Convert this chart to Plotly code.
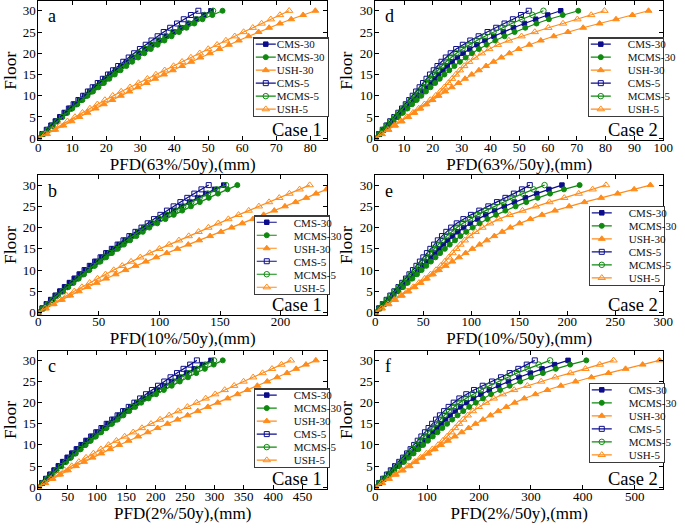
import plotly.graph_objects as go

floors = list(range(31))
series_names = ["CMS-30", "MCMS-30", "USH-30", "CMS-5", "MCMS-5", "USH-5"]

# ---- Panel a : Case 1, PFD(63%/50y)
a_cms30 = [0, 1.3, 2.6, 3.9, 5.2, 6.5, 7.9, 9.3, 10.7, 12.1, 13.6, 15.1, 16.6, 18.1, 19.6, 21.1, 22.7, 24.3, 25.9, 27.6, 29.5, 31.4, 33.4, 35.5, 37.6, 39.8, 42.0, 44.2, 46.5, 48.7, 50.8]
a_mcms30 = [0, 1.4, 2.8, 4.2, 5.6, 7.0, 8.5, 10.0, 11.5, 13.0, 14.5, 16.1, 17.7, 19.3, 20.9, 22.5, 24.2, 25.9, 27.6, 29.4, 31.2, 33.1, 35.1, 37.1, 39.2, 41.4, 43.6, 45.9, 48.3, 51.2, 54.2]
a_ush30 = [0, 2.6, 5.0, 7.4, 9.8, 12.1, 14.5, 16.9, 19.3, 21.8, 24.3, 26.8, 29.3, 31.9, 34.4, 37.0, 39.6, 42.3, 45.0, 47.7, 50.5, 53.3, 56.1, 59.0, 61.9, 64.8, 67.9, 71.1, 74.4, 77.9, 81.5]
a_cms5 = [0, 1.2, 2.5, 3.8, 5.1, 6.4, 7.7, 9.0, 10.4, 11.8, 13.2, 14.6, 16.0, 17.5, 19.0, 20.5, 22.0, 23.5, 25.0, 26.6, 28.2, 29.9, 31.6, 33.3, 35.1, 36.9, 38.8, 40.8, 42.8, 44.9, 47.1]
a_mcms5 = [0, 1.4, 2.8, 4.2, 5.6, 7.0, 8.4, 9.8, 11.2, 12.6, 14.1, 15.6, 17.1, 18.6, 20.1, 21.6, 23.2, 24.8, 26.4, 28.0, 29.7, 31.5, 33.4, 35.4, 37.4, 39.6, 41.8, 44.1, 46.5, 48.9, 51.4]
a_ush5 = [0, 2.1, 4.3, 6.4, 8.6, 10.8, 13.0, 15.2, 17.4, 19.6, 21.9, 24.4, 27.0, 29.5, 32.1, 34.6, 37.2, 39.8, 42.3, 44.9, 47.5, 50.0, 52.6, 55.2, 57.8, 60.4, 63.1, 65.7, 68.4, 71.1, 73.8]

# ---- Panel b : Case 1, PFD(10%/50y)
b_cms30 = [0, 3.5, 7.0, 10.6, 14.3, 18.1, 22.0, 26.0, 30.1, 34.4, 38.8, 43.2, 47.7, 52.3, 57.0, 61.8, 66.7, 71.7, 76.8, 82.0, 87.3, 93.1, 99.1, 105.3, 111.7, 118.2, 124.8, 131.5, 138.3, 145.5, 153.1]
b_mcms30 = [0, 3.9, 7.9, 12.0, 16.2, 20.5, 24.8, 29.1, 33.4, 37.8, 42.2, 46.7, 51.3, 56.0, 60.8, 65.7, 70.7, 75.8, 81.0, 86.3, 91.7, 98.2, 104.9, 111.8, 118.8, 126.0, 133.3, 140.7, 148.3, 156.2, 164.3]
b_ush30 = [0, 6.3, 12.8, 19.5, 26.4, 33.5, 40.8, 48.3, 56.0, 63.9, 72.0, 80.3, 88.8, 97.4, 106.1, 114.9, 123.8, 132.8, 141.8, 150.8, 159.6, 168.4, 177.2, 186.0, 194.8, 203.6, 212.4, 221.2, 229.3, 238.0, 246.8]
b_cms5 = [0, 3.4, 6.9, 10.5, 14.2, 18.0, 21.9, 25.9, 29.9, 34.0, 38.2, 42.5, 46.9, 51.4, 56.0, 60.7, 65.5, 70.3, 75.2, 80.2, 85.2, 90.3, 95.5, 100.8, 106.2, 111.7, 117.3, 123.0, 128.8, 134.7, 140.7]
b_mcms5 = [0, 3.8, 7.7, 11.7, 15.8, 20.0, 24.1, 28.3, 32.5, 36.8, 41.1, 45.5, 49.9, 54.4, 59.0, 63.7, 68.4, 73.2, 78.0, 82.9, 87.9, 93.9, 100.1, 106.5, 113.0, 119.6, 126.3, 133.1, 140.1, 147.4, 155.0]
b_ush5 = [0, 5.6, 11.4, 17.4, 23.5, 29.7, 36.0, 42.4, 48.9, 55.5, 62.3, 69.3, 76.6, 84.2, 92.0, 100.0, 108.0, 116.1, 124.2, 132.3, 140.4, 148.5, 156.9, 165.3, 173.7, 182.1, 190.5, 198.9, 207.3, 215.7, 224.0]

# ---- Panel c : Case 1, PFD(2%/50y)
c_cms30 = [0, 6.7, 13.4, 20.4, 27.5, 34.8, 42.2, 49.9, 57.8, 66.0, 74.5, 82.9, 91.6, 100.4, 109.4, 118.7, 128.1, 137.7, 147.5, 157.4, 167.6, 178.8, 190.3, 202.2, 214.5, 226.9, 239.6, 252.5, 265.5, 279.4, 294.0]
c_mcms30 = [0, 7.5, 15.1, 22.9, 31.0, 39.2, 47.4, 55.6, 63.9, 72.3, 80.7, 89.3, 98.1, 107.1, 116.3, 125.6, 135.2, 144.9, 154.9, 165.0, 175.3, 187.8, 200.6, 213.8, 227.2, 240.9, 254.9, 269.0, 283.6, 298.7, 314.1]
c_ush30 = [0, 12.1, 24.5, 37.3, 50.6, 64.2, 78.1, 92.5, 107.2, 122.4, 137.9, 153.8, 170.1, 186.5, 203.2, 220.0, 237.1, 254.3, 271.6, 288.8, 305.6, 322.5, 339.3, 356.2, 373.0, 389.9, 406.8, 423.6, 439.1, 455.8, 472.6]
c_cms5 = [0, 6.5, 13.2, 20.2, 27.3, 34.6, 42.0, 49.7, 57.4, 65.3, 73.3, 81.6, 90.0, 98.7, 107.5, 116.5, 125.8, 135.0, 144.4, 154.0, 163.6, 173.4, 183.4, 193.5, 203.9, 214.5, 225.2, 236.2, 247.3, 258.6, 270.1]
c_mcms5 = [0, 7.3, 14.9, 22.6, 30.5, 38.6, 46.5, 54.6, 62.7, 71.0, 79.3, 87.8, 96.3, 105.0, 113.9, 122.9, 132.0, 141.3, 150.5, 160.0, 169.7, 181.2, 193.2, 205.6, 218.1, 230.8, 243.8, 256.9, 270.4, 284.5, 299.2]
c_ush5 = [0, 10.8, 21.9, 33.4, 45.1, 57.0, 69.1, 81.4, 93.9, 106.6, 119.6, 133.1, 147.1, 161.7, 176.6, 192.0, 207.4, 222.9, 238.5, 254.0, 269.6, 285.1, 301.3, 317.4, 333.5, 349.6, 365.8, 381.9, 398.0, 414.1, 430.1]

# ---- Panel d : Case 2, PFD(63%/50y)
d_cms30 = [0, 1.5, 3.0, 4.5, 6.0, 7.4, 8.9, 10.4, 11.9, 13.4, 14.9, 16.4, 17.8, 19.2, 20.6, 22.0, 23.5, 25.0, 26.7, 28.5, 30.5, 32.8, 35.3, 38.1, 41.2, 44.5, 48.0, 51.8, 55.7, 59.9, 64.4]
d_mcms30 = [0, 1.6, 3.2, 4.8, 6.4, 8.0, 9.6, 11.2, 12.8, 14.4, 16.0, 17.6, 19.2, 20.8, 22.4, 24.0, 25.7, 27.5, 29.4, 31.4, 33.6, 36.0, 38.7, 41.7, 44.9, 48.4, 52.1, 56.0, 60.3, 65.1, 70.5]
d_ush30 = [0, 2.3, 4.6, 6.9, 9.2, 11.5, 13.6, 15.7, 17.8, 19.9, 22.0, 24.3, 26.6, 28.9, 31.2, 33.5, 36.0, 38.5, 41.1, 43.8, 46.6, 49.8, 53.5, 57.5, 62.0, 66.9, 72.2, 77.9, 83.6, 89.3, 94.9]
d_cms5 = [0, 1.3, 2.6, 3.9, 5.2, 6.6, 8.0, 9.3, 10.6, 11.8, 13.0, 14.2, 15.4, 16.6, 17.8, 19.0, 20.3, 21.6, 23.0, 24.5, 26.2, 28.1, 30.4, 33.0, 35.9, 39.0, 42.0, 44.9, 47.8, 50.6, 53.3]
d_mcms5 = [0, 1.4, 2.7, 4.1, 5.5, 6.9, 8.3, 9.7, 11.0, 12.3, 13.7, 15.0, 16.3, 17.6, 18.9, 20.2, 21.6, 23.1, 24.6, 26.3, 28.2, 30.3, 32.7, 35.3, 38.1, 41.1, 44.2, 47.4, 50.9, 54.6, 58.4]
d_ush5 = [0, 2.2, 4.4, 6.6, 8.8, 11.0, 13.1, 15.1, 17.1, 19.1, 21.0, 22.6, 24.0, 25.4, 26.7, 28.0, 29.4, 30.9, 32.6, 34.6, 37.0, 39.6, 42.6, 46.4, 50.8, 55.4, 60.1, 65.2, 70.2, 75.0, 79.6]

# ---- Panel e : Case 2, PFD(10%/50y)
e_cms30 = [0, 4.5, 9.1, 13.6, 18.1, 22.3, 26.9, 31.4, 35.9, 40.5, 45.0, 49.5, 53.8, 58.0, 62.2, 66.4, 71.0, 75.5, 80.6, 86.1, 92.1, 99.1, 106.6, 115.1, 124.4, 134.4, 145.0, 156.4, 168.2, 180.9, 194.5]
e_mcms30 = [0, 4.8, 9.7, 14.5, 19.3, 24.2, 29.0, 33.8, 38.7, 43.5, 48.3, 53.2, 58.0, 62.8, 67.6, 72.5, 77.6, 83.1, 88.8, 94.8, 101.5, 108.7, 116.9, 125.9, 135.6, 146.2, 157.3, 169.1, 182.1, 196.6, 212.9]
e_ush30 = [0, 6.9, 13.9, 20.8, 27.8, 34.7, 41.1, 47.4, 53.8, 60.1, 66.4, 73.4, 80.3, 87.3, 94.2, 101.2, 108.7, 116.3, 124.1, 132.3, 140.7, 150.4, 161.6, 173.7, 187.2, 202.0, 218.0, 235.3, 252.5, 269.7, 286.6]
e_cms5 = [0, 3.9, 7.9, 11.8, 15.7, 19.9, 24.2, 28.1, 32.0, 35.6, 39.3, 42.9, 46.5, 50.1, 53.8, 57.4, 61.3, 65.2, 69.5, 74.0, 79.1, 84.9, 91.8, 99.7, 108.4, 117.8, 126.8, 135.6, 144.4, 152.8, 161.0]
e_mcms5 = [0, 4.2, 8.2, 12.4, 16.6, 20.8, 25.1, 29.3, 33.2, 37.1, 41.4, 45.3, 49.2, 53.2, 57.1, 61.0, 65.2, 69.8, 74.3, 79.4, 85.2, 91.5, 98.8, 106.6, 115.1, 124.1, 133.5, 143.1, 153.7, 164.9, 176.4]
e_ush5 = [0, 6.6, 13.3, 19.9, 26.6, 33.2, 39.6, 45.6, 51.6, 57.7, 63.4, 68.3, 72.5, 76.7, 80.6, 84.6, 88.8, 93.3, 98.5, 104.5, 111.7, 119.6, 128.7, 140.1, 153.4, 167.3, 181.5, 196.9, 212.0, 226.5, 240.4]

# ---- Panel f : Case 2, PFD(2%/50y)
f_cms30 = [0, 8.7, 17.3, 26.0, 34.6, 42.7, 51.4, 60.0, 68.7, 77.3, 86.0, 94.6, 102.7, 110.8, 118.9, 126.9, 135.6, 144.3, 154.1, 164.4, 176.0, 189.3, 203.7, 219.8, 237.7, 256.8, 277.0, 298.9, 321.4, 345.6, 371.6]
f_mcms30 = [0, 9.2, 18.5, 27.7, 36.9, 46.2, 55.4, 64.6, 73.9, 83.1, 92.3, 101.6, 110.8, 120.0, 129.2, 138.5, 148.3, 158.7, 169.6, 181.2, 193.9, 207.7, 223.3, 240.6, 259.1, 279.3, 300.6, 323.1, 347.9, 375.6, 406.8]
f_ush30 = [0, 13.3, 26.5, 39.8, 53.1, 66.4, 78.5, 90.6, 102.7, 114.8, 126.9, 140.2, 153.5, 166.8, 180.0, 193.3, 207.7, 222.1, 237.1, 252.7, 268.9, 287.3, 308.7, 331.8, 357.7, 386.0, 416.6, 449.5, 482.4, 515.3, 547.6]
f_cms5 = [0, 7.5, 15.0, 22.5, 30.0, 38.1, 46.2, 53.7, 61.2, 68.1, 75.0, 81.9, 88.9, 95.8, 102.7, 109.6, 117.1, 124.6, 132.7, 141.4, 151.2, 162.1, 175.4, 190.4, 207.1, 225.0, 242.3, 259.1, 275.8, 292.0, 307.5]
f_mcms5 = [0, 8.1, 15.6, 23.7, 31.7, 39.8, 47.9, 56.0, 63.5, 71.0, 79.0, 86.6, 94.1, 101.6, 109.1, 116.6, 124.6, 133.3, 141.9, 151.8, 162.7, 174.8, 188.7, 203.7, 219.8, 237.1, 255.0, 273.5, 293.7, 315.0, 337.0]
f_ush5 = [0, 12.7, 25.4, 38.1, 50.8, 63.5, 75.6, 87.1, 98.7, 110.2, 121.2, 130.4, 138.5, 146.6, 154.1, 161.6, 169.6, 178.3, 188.1, 199.6, 213.5, 228.5, 245.8, 267.7, 293.1, 319.7, 346.8, 376.2, 405.1, 432.8, 459.3]

x_titles = ["PFD(63%/50y),(mm)", "PFD(10%/50y),(mm)", "PFD(2%/50y),(mm)"]
y_ticks = [0, 5, 10, 15, 20, 25, 30]

panels = [
    # letter, case, series, x title, x max, dtick, column, row
    ("a", "Case 1", [a_cms30, a_mcms30, a_ush30, a_cms5, a_mcms5, a_ush5], x_titles[0], 85, 10, 0, 0),
    ("b", "Case 1", [b_cms30, b_mcms30, b_ush30, b_cms5, b_mcms5, b_ush5], x_titles[1], 238.5, 50, 0, 1),
    ("c", "Case 1", [c_cms30, c_mcms30, c_ush30, c_cms5, c_mcms5, c_ush5], x_titles[2], 492, 50, 0, 2),
    ("d", "Case 2", [d_cms30, d_mcms30, d_ush30, d_cms5, d_mcms5, d_ush5], x_titles[0], 100, 10, 1, 0),
    ("e", "Case 2", [e_cms30, e_mcms30, e_ush30, e_cms5, e_mcms5, e_ush5], x_titles[1], 300, 50, 1, 1),
    ("f", "Case 2", [f_cms30, f_mcms30, f_ush30, f_cms5, f_mcms5, f_ush5], x_titles[2], 555, 100, 1, 2),
]

BLUE = "#0d0d8c"
GREEN = "#0f8a0f"
ORANGE = "#ff8c1a"
styles = {
    "CMS-30": dict(color=BLUE, symbol="square", size=4.5),
    "MCMS-30": dict(color=GREEN, symbol="circle", size=5),
    "USH-30": dict(color=ORANGE, symbol="triangle-up", size=6),
    "CMS-5": dict(color=BLUE, symbol="square-open", size=5),
    "MCMS-5": dict(color=GREEN, symbol="circle-open", size=5.5),
    "USH-5": dict(color=ORANGE, symbol="triangle-up-open", size=6.5),
}

W, H = 685, 529
FONT = "Liberation Serif, Times New Roman, serif"
col_dom = [[36 / W, 331 / W], [380 / W, 674 / W]]
row_dom = [[1 - 141.7 / H, 1 - 1 / H], [1 - 317.7 / H, 1 - 177 / H], [1 - 494 / H, 1 - 354 / H]]
legend_pos = {
    "a": (255 / W, 1 - 37.7 / H), "b": (256 / W, 1 - 217.5 / H), "c": (256 / W, 1 - 392 / H),
    "d": (597 / W, 1 - 37.7 / H), "e": (598 / W, 1 - 208 / H), "f": (598 / W, 1 - 386.7 / H),
}

fig = go.Figure()
layout = dict(
    width=W, height=H, margin=dict(l=0, r=0, t=0, b=0),
    paper_bgcolor="white", plot_bgcolor="white",
    font=dict(family=FONT, size=13, color="black"),
    annotations=[], showlegend=True,
)

for k, (letter, case, data, xtitle, xmax, dtick, col, row) in enumerate(panels):
    idx = k + 1
    xa = "x" if idx == 1 else f"x{idx}"
    ya = "y" if idx == 1 else f"y{idx}"
    lg = "legend" if idx == 1 else f"legend{idx}"
    for name, vals in zip(series_names, data):
        st = styles[name]
        fig.add_trace(go.Scatter(
            x=vals, y=floors, mode="lines+markers", name=name,
            xaxis=xa, yaxis=ya, legend=lg,
            line=dict(color=st["color"], width=1.2),
            marker=dict(symbol=st["symbol"], size=st["size"], color=st["color"],
                        line=dict(color=st["color"], width=1)),
        ))
    axis_common = dict(showline=True, linecolor="black", linewidth=1, mirror="ticks",
                       ticks="inside", ticklen=4, tickwidth=1, tickcolor="black",
                       showgrid=False, zeroline=False, ticklabeloverflow="allow",
                       tickfont=dict(family=FONT, size=13, color="black"))
    layout["xaxis" if idx == 1 else f"xaxis{idx}"] = dict(
        axis_common, domain=col_dom[col], anchor=ya, range=[0, xmax], dtick=dtick, tick0=0,
        ticklabelstandoff=-5,
        title=dict(text=xtitle, font=dict(family=FONT, size=17), standoff=0))
    layout["yaxis" if idx == 1 else f"yaxis{idx}"] = dict(
        axis_common, domain=row_dom[row], anchor=xa, range=[-0.5, 32.3], tickvals=y_ticks,
        ticklabelstandoff=-1,
        title=dict(text="Floor", font=dict(family=FONT, size=17.5), standoff=2))
    lx, ly = legend_pos[letter]
    layout[lg] = dict(x=lx, y=ly, xanchor="left", yanchor="top", bgcolor="white",
                      bordercolor="#3a3a3a", borderwidth=1.3, tracegroupgap=0,
                      font=dict(family=FONT, size=11, color="#111"))
    layout["annotations"].append(dict(
        text=letter, xref=f"{xa} domain", yref=f"{ya} domain", x=0.028, y=0.975,
        xanchor="left", yanchor="top", showarrow=False, font=dict(family=FONT, size=18)))
    layout["annotations"].append(dict(
        text=case, xref=f"{xa} domain", yref=f"{ya} domain", x=0.99, y=0.0, yshift=-2,
        xanchor="right", yanchor="bottom", showarrow=False, font=dict(family=FONT, size=18.5)))

fig.update_layout(**layout)

post = """
document.body.style.margin = '0';
var gd = document.getElementById('{plot_id}');
function compactLegends(){
  var ids = ['legend','legend2','legend3','legend4','legend5','legend6'];
  ids.forEach(function(id){
    var lg = gd.querySelector('g.' + id);
    if(!lg) return;
    var items = lg.querySelectorAll('g.traces');
    var step = 13.0, top = 6.8;
    for (var i = 0; i < items.length; i++){
      var it = items[i];
      it.setAttribute('transform', 'translate(0,' + (top + i*step) + ')');
      var t = it.querySelector('text.legendtext');
      if(t){ t.setAttribute('x', 24); }
      it.querySelectorAll('g.legendlines path').forEach(function(p){ p.setAttribute('d', 'M3,0h20'); });
      it.querySelectorAll('g.legendpoints path').forEach(function(p){ p.setAttribute('transform', 'translate(13,0)'); });
      var tg = it.querySelector('rect.legendtoggle');
      if(tg){ tg.setAttribute('y', -6.5); tg.setAttribute('height', 13.0); tg.setAttribute('width', 74); }
    }
    var bg = lg.querySelector('rect.bg');
    if(bg){ bg.setAttribute('height', top*2 + (items.length-1)*step); bg.setAttribute('width', 75); }
  });
}
compactLegends();
gd.on('plotly_afterplot', compactLegends);
"""

fig.write_html("out.html", post_script=post, config={"responsive": False, "displayModeBar": False})
